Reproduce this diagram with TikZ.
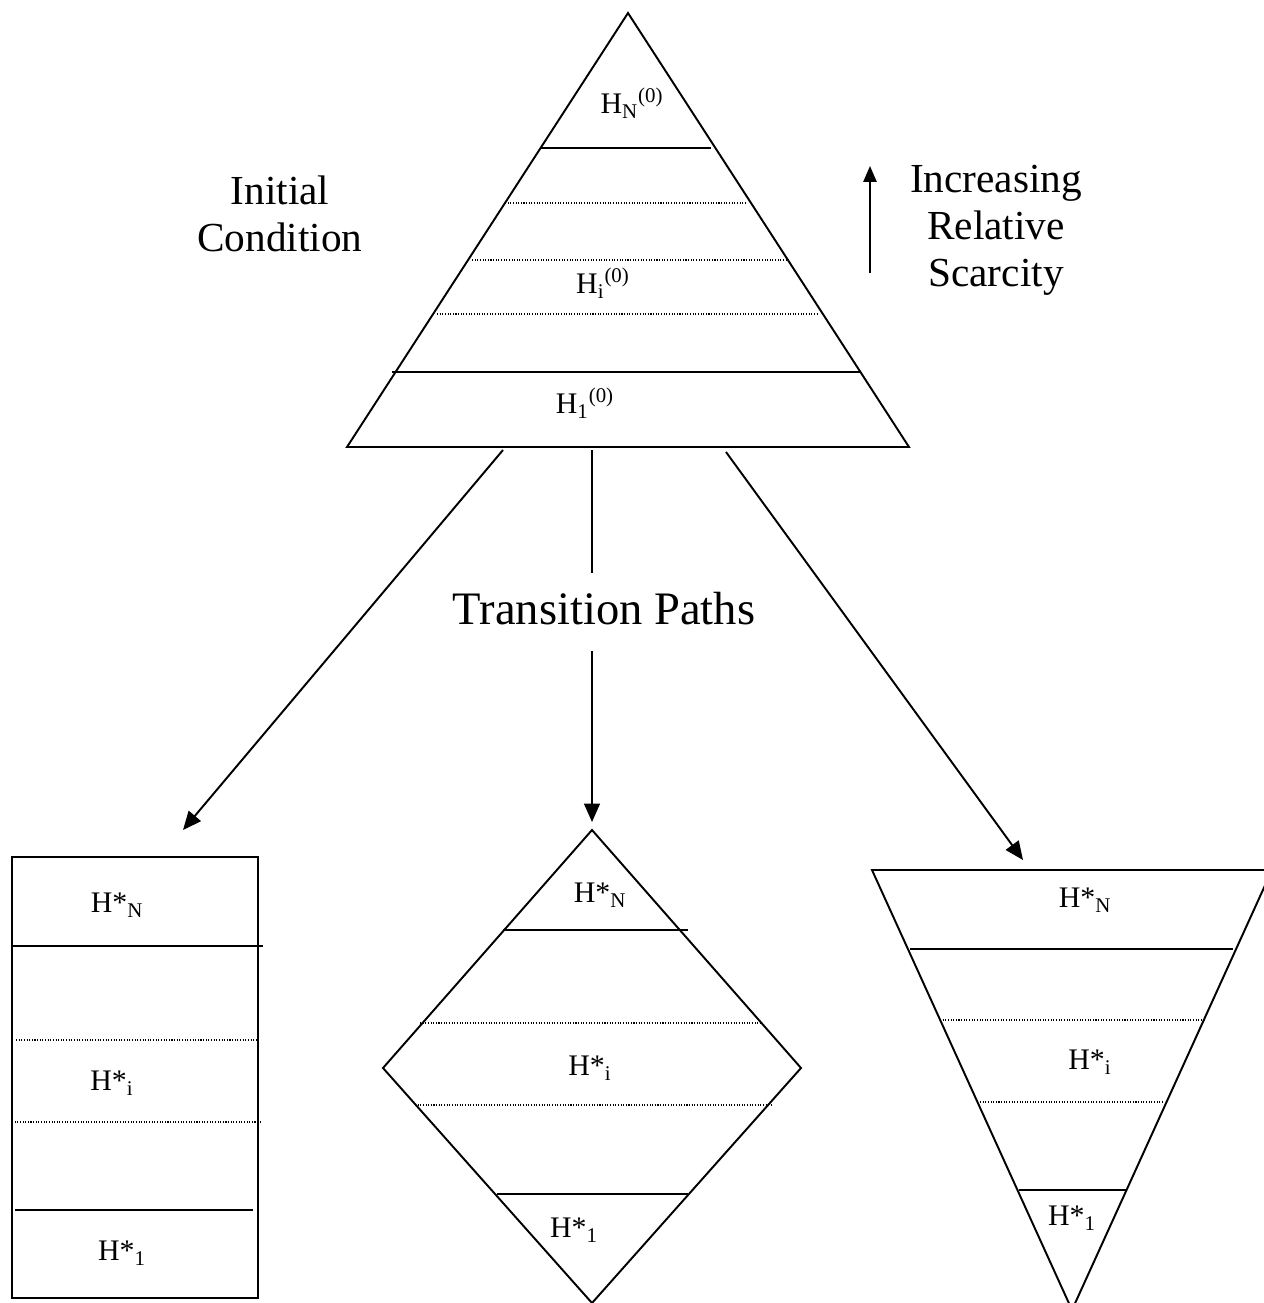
\documentclass[tikz,border=0pt]{standalone}
\usepackage{fontspec}
\setmainfont{Liberation Serif}
\usetikzlibrary{arrows.meta}

\begin{document}
\begin{tikzpicture}[x=0.02cm, y=-0.02cm, line width=1.1pt, line join=miter,
    every node/.style={font=\fontsize{17}{19}\selectfont, inner sep=1pt}]
    \tikzset{
        divider/.style={line width=1.1pt},
        sublayer/.style={line width=0.6pt, dash pattern=on 0.6pt off 0.9pt},
        pathtip/.style={-{Triangle[length=10.5pt,width=9pt]}},
        caption/.style={font=\fontsize{23.5}{26.7}\selectfont, align=center}
    }
    \useasboundingbox (0,0) rectangle (1264,1303);
    \clip (0,0) rectangle (1264,1303);

    % ---------------- Top: initial pyramid ----------------
    \coordinate (apex) at (628,13);
    \coordinate (baseL) at (347,447);
    \coordinate (baseR) at (909,447);
    \draw (apex) -- (baseR) -- (baseL) -- cycle;

    \draw[divider] (541,148) -- (711,148);
    \draw[sublayer] (505,203) -- (745,203);
    \draw[sublayer] (472,260) -- (790,260);
    \draw[sublayer] (437,314) -- (818,314);
    \draw[divider] (392,372) -- (860,372);

    \node (hN0) at (632,103) {H\textsubscript{N}\textsuperscript{(0)}};
    \node (hi0) at (603,283) {H\textsubscript{i}\textsuperscript{(0)}};
    \node (h10) at (585,403) {H\textsubscript{1}\textsuperscript{(0)}};

    \node[caption] (init) at (280,214) {Initial\\Condition};
    \node[caption] (scarce) at (996,230) {Increasing\\Relative\\Scarcity};

    \coordinate (upS) at (870,273);
    \coordinate (upE) at (870,166);
    \draw[line width=1pt, -{Triangle[length=9pt,width=7.5pt]}] (upS) -- (upE);

    % ---------------- Transition paths ----------------
    \node[font=\fontsize{26.5}{28}\selectfont, text height=18pt, text depth=4pt,
        inner ysep=10.5pt] (tpath) at (604,612) {Transition Paths};

    \coordinate (leftS) at (503,450);
    \coordinate (midS) at (592,450);
    \coordinate (rightS) at (726,452);
    \coordinate (leftE) at (183,830);
    \coordinate (rightE) at (1023,860);

    \draw[pathtip] (leftS) -- (leftE);
    \draw (midS) -- (midS |- tpath.north);
    \draw[pathtip] (midS |- tpath.south) -- (592,822);
    \draw[pathtip] (rightS) -- (rightE);

    % ---------------- Bottom left: flat profile ----------------
    \draw (12,857) rectangle (258,1298);
    \draw[divider] (12,946) -- (263,946);
    \draw[sublayer] (16,1040) -- (257,1040);
    \draw[sublayer] (12,1122) -- (260,1122);
    \draw[divider] (15,1210) -- (253,1210);

    \node (rN) at (117,905) {H*\textsubscript{N}};
    \node (ri) at (112,1083) {H*\textsubscript{i}};
    \node (r1) at (122,1253) {H*\textsubscript{1}};

    % ---------------- Bottom centre: diamond ----------------
    \coordinate (dtop) at (592,830);
    \coordinate (dleft) at (383,1068);
    \coordinate (dright) at (801,1068);
    \coordinate (dbot) at (592,1303);
    \draw (dtop) -- (dright) -- (dbot) -- (dleft) -- cycle;

    \draw[divider] (503,930) -- (688,930);
    \draw[sublayer] (420,1023) -- (760,1023);
    \draw[sublayer] (415,1105) -- (772,1105);
    \draw[divider] (497,1194) -- (688,1194);

    \node (dN) at (600,895) {H*\textsubscript{N}};
    \node (di) at (590,1068) {H*\textsubscript{i}};
    \node (d1) at (574,1230) {H*\textsubscript{1}};

    % ---------------- Bottom right: inverted pyramid ----------------
    \coordinate (itopL) at (872,870);
    \coordinate (itopR) at (1272,870);
    \coordinate (ibot) at (1072,1310);
    \draw (itopL) -- (itopR) -- (ibot) -- cycle;

    \draw[divider] (910,949) -- (1233,949);
    \draw[sublayer] (940,1020) -- (1204,1020);
    \draw[sublayer] (980,1102) -- (1163,1102);
    \draw[divider] (1019,1190) -- (1126,1190);

    \node (iN) at (1085,900) {H*\textsubscript{N}};
    \node (ii) at (1090,1062) {H*\textsubscript{i}};
    \node (i1) at (1072,1218) {H*\textsubscript{1}};
\end{tikzpicture}
\end{document}
